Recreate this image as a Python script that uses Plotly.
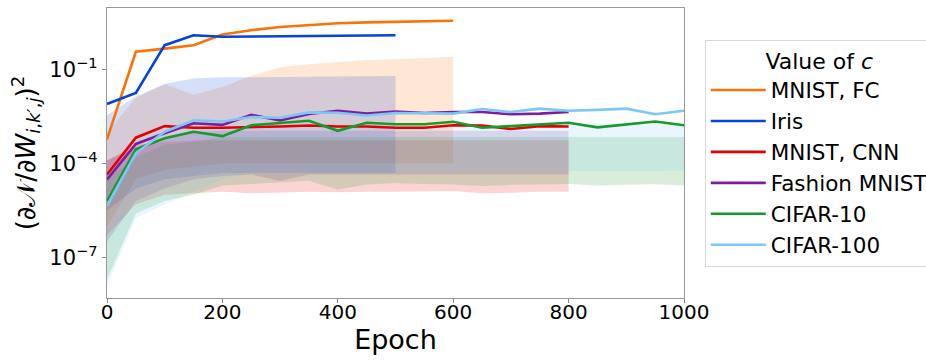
import numpy as np
import plotly.graph_objects as go

# ---------------- data (log10 of the values) ----------------
epochs = list(range(0, 1001, 50))

series_names = ["MNIST, FC", "Iris", "MNIST, CNN", "Fashion MNIST", "CIFAR-10", "CIFAR-100"]
series_colors = ["#f97306", "#0343df", "#e50000", "#7e1e9c", "#179a2c", "#7bc8f6"]

# mean curves (log10)
mnist_fc_log = [-3.22, -0.42, -0.32, -0.21, 0.13, 0.27, 0.37, 0.44, 0.49, 0.52, 0.54, 0.55, 0.57]
iris_log = [-2.09, -1.74, -0.21, 0.11, 0.06, 0.07, 0.09, 0.10, 0.10, 0.11, 0.11]
mnist_cnn_log = [-4.35, -3.17, -2.80, -2.85, -2.85, -2.84, -2.81, -2.78, -2.81, -2.81, -2.85,
                 -2.85, -2.77, -2.78, -2.89, -2.80, -2.81]
fashion_log = [-4.51, -3.37, -3.03, -2.71, -2.76, -2.44, -2.62, -2.41, -2.31, -2.40, -2.33,
               -2.38, -2.35, -2.35, -2.42, -2.40, -2.35]
cifar10_log = [-5.20, -3.54, -3.19, -2.98, -3.12, -2.77, -2.70, -2.63, -2.95, -2.69, -2.74,
               -2.74, -2.66, -2.85, -2.80, -2.75, -2.69, -2.84, -2.75, -2.65, -2.77]
cifar100_log = [-5.35, -3.67, -2.98, -2.61, -2.65, -2.51, -2.53, -2.36, -2.37, -2.46, -2.38,
                -2.40, -2.40, -2.25, -2.35, -2.24, -2.31, -2.28, -2.24, -2.42, -2.31]

# band upper / lower edges (log10)
mnist_fc_up = [-3.0, -1.9, -1.45, -1.8, -1.55, -1.19, -0.92, -0.82, -0.75, -0.68, -0.66, -0.61, -0.58]
mnist_fc_lo = [-6.0, -4.5, -4.2, -4.1, -4.0, -4.0, -4.0, -4.0, -4.0, -4.0, -4.0, -4.0, -4.0]
iris_up = [-2.45, -1.85, -1.45, -1.28, -1.24, -1.23, -1.22, -1.22, -1.21, -1.21, -1.2]
iris_lo = [-5.5, -4.8, -4.5, -4.4, -4.3, -4.3, -4.3, -4.3, -4.3, -4.3, -4.3]
mnist_cnn_up = [-3.9, -3.4, -3.3, -3.25, -3.25, -3.25, -3.25, -3.25, -3.25, -3.25, -3.25,
                -3.25, -3.25, -3.25, -3.25, -3.25, -3.25]
mnist_cnn_lo = [-6.3, -5.3, -5.0, -4.95, -4.9, -4.95, -4.93, -4.9, -4.92, -4.9, -4.9,
                -4.9, -4.88, -4.95, -4.93, -4.9, -4.9]
fashion_up = [-3.9, -3.5, -3.2, -3.0, -2.95, -2.95, -2.95, -2.95, -2.95, -2.95, -2.95,
              -2.95, -2.95, -2.95, -2.95, -2.95, -2.95]
fashion_lo = [-6.5, -5.2, -4.8, -4.5, -4.4, -4.35, -4.55, -4.35, -4.35, -4.35, -4.35,
              -4.35, -4.35, -4.35, -4.35, -4.35, -4.35]
cifar10_up = [-4.5, -3.8, -3.4, -3.3, -3.15, -3.15, -3.15, -3.15, -3.15, -3.15, -3.15,
              -3.15, -3.15, -3.15, -3.15, -3.15, -3.15, -3.15, -3.15, -3.15, -3.15]
cifar10_lo = [-7.7, -5.6, -5.2, -5.0, -4.7, -4.67, -4.6, -4.55, -4.83, -4.67, -4.62,
              -4.65, -4.67, -4.72, -4.68, -4.66, -4.65, -4.7, -4.68, -4.66, -4.7]
cifar100_up = [-4.3, -3.7, -3.2, -2.9, -2.85, -2.8, -2.8, -2.8, -2.8, -2.8, -2.8,
               -2.8, -2.8, -2.8, -2.8, -2.75, -2.72, -2.72, -2.72, -2.72, -2.72]
cifar100_lo = [-7.9, -5.75, -5.3, -4.9, -4.5, -4.3, -4.3, -4.3, -4.3, -4.3, -4.3,
               -4.25, -4.25, -4.25, -4.25, -4.25, -4.25, -4.24, -4.24, -4.24, -4.24]

means = [mnist_fc_log, iris_log, mnist_cnn_log, fashion_log, cifar10_log, cifar100_log]
uppers = [mnist_fc_up, iris_up, mnist_cnn_up, fashion_up, cifar10_up, cifar100_up]
lowers = [mnist_fc_lo, iris_lo, mnist_cnn_lo, fashion_lo, cifar10_lo, cifar100_lo]

x_ticks = [0, 200, 400, 600, 800, 1000]
y_tickvals = [1e-7, 1e-4, 1e-1]
y_ticktext = ["10<sup>\u22127</sup>", "10<sup>\u22124</sup>", "10<sup>\u22121</sup>"]


def hex_rgba(h, a):
    h = h.lstrip("#")
    return "rgba(%d,%d,%d,%s)" % (int(h[0:2], 16), int(h[2:4], 16), int(h[4:6], 16), a)


fig = go.Figure()

# bands
for name, col, up, lo in zip(series_names, series_colors, uppers, lowers):
    n = len(up)
    xs = epochs[:n]
    fig.add_trace(go.Scatter(
        x=xs + xs[::-1],
        y=[10 ** v for v in up] + [10 ** v for v in lo[::-1]],
        fill="toself", fillcolor=hex_rgba(col, 0.17),
        line=dict(width=0), mode="lines", hoverinfo="skip", showlegend=False))

# lines
for name, col, m in zip(series_names, series_colors, means):
    n = len(m)
    fig.add_trace(go.Scatter(
        x=epochs[:n], y=[10 ** v for v in m], mode="lines", name=name,
        line=dict(color=col, width=2.6)))

font_family = "DejaVu Sans"
fig.update_layout(
    width=926, height=360,
    margin=dict(l=107, r=242, t=8, b=62, autoexpand=False),
    paper_bgcolor="white", plot_bgcolor="white",
    font=dict(family=font_family, size=20, color="black"),
    showlegend=True,
    legend=dict(
        x=1.036, y=0.89, xanchor="left", yanchor="top",
        bordercolor="#d9d9d9", borderwidth=1, bgcolor="white",
        font=dict(size=21.5, family=font_family),
        title=dict(text="Value of <i>c</i>", side="top center", font=dict(size=22, family=font_family)),
        tracegroupgap=0, itemwidth=55,
    ),
    xaxis=dict(
        range=[0, 1000], tickvals=x_ticks, ticks="outside", ticklen=4, tickcolor="#888",
        showline=True, linecolor="#999", linewidth=1.2, mirror=True, showgrid=False,
        zeroline=False, tickfont=dict(size=20), automargin=False, ticklabelstandoff=-8,
        title=dict(text="Epoch", font=dict(size=27), standoff=6),
    ),
    yaxis=dict(
        type="log", range=[-8.3, 0.98], tickvals=y_tickvals, ticktext=y_ticktext,
        ticks="outside", ticklen=4, tickcolor="#888",
        showline=True, linecolor="#999", linewidth=1.2, mirror=True, showgrid=False,
        zeroline=False, tickfont=dict(size=21), automargin=False,
        title=dict(text="(\u2202\U0001D4A9/\u2202<i>W</i><sub><i>i</i>,<i>k</i>\u2032,<i>j</i></sub>)<sup>2</sup>",
                   font=dict(size=26), standoff=6),
    ),
)

fig.write_html(
    "out.html",
    config={"displayModeBar": False},
    post_script="document.body.style.margin='0px';"
                "document.body.style.overflow='hidden';"
                "document.documentElement.style.overflow='hidden';",
)
